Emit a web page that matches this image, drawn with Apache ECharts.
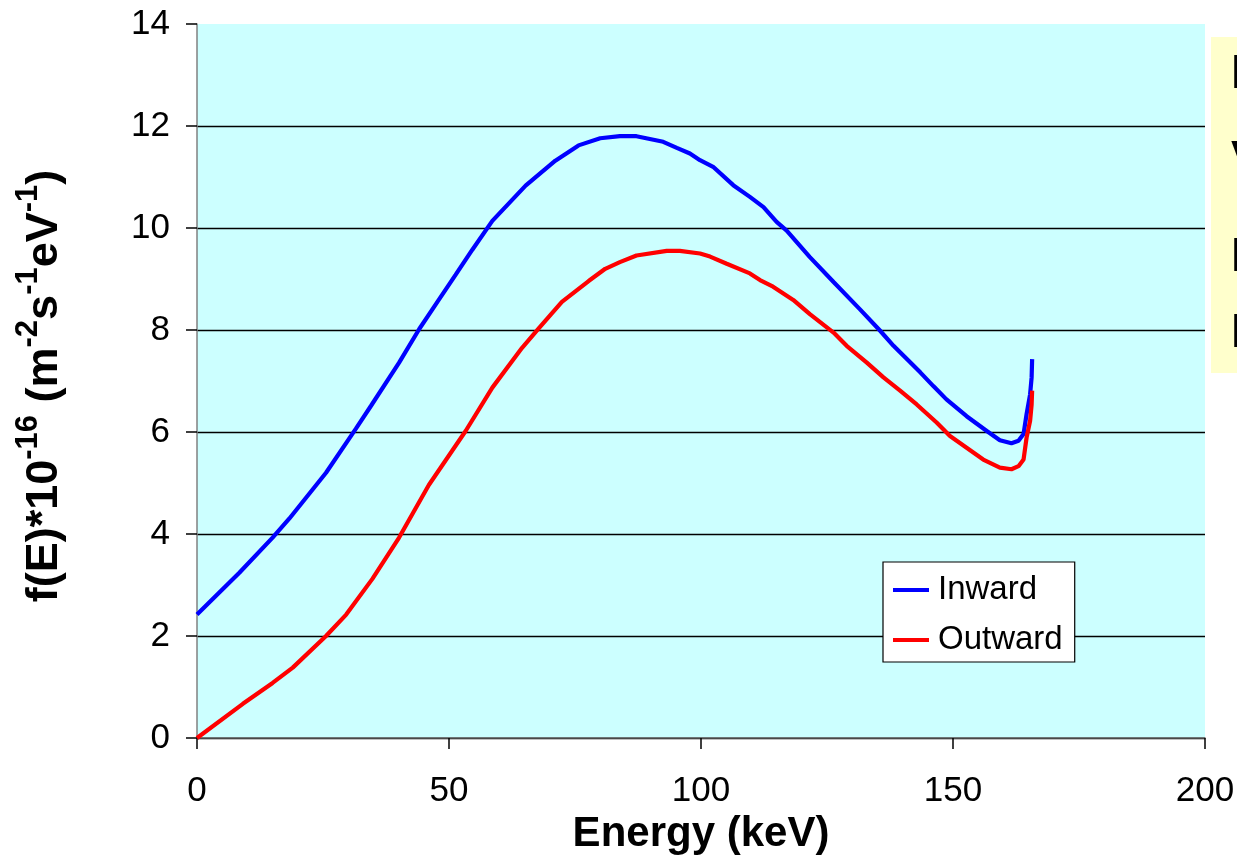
<!DOCTYPE html>
<html>
<head>
<meta charset="utf-8">
<script src="https://cdn.jsdelivr.net/npm/echarts@6/dist/echarts.min.js"></script>
<style>
html,body{margin:0;padding:0;background:#fff;}
#chart{width:1237px;height:855px;}
</style>
</head>
<body>
<div id="chart"></div>
<script>
// ---- data ----
const xTicks = [0, 50, 100, 150, 200];
const yTicks = [0, 2, 4, 6, 8, 10, 12, 14];
const seriesNames = ['Inward', 'Outward'];

const inwardE = [0, 8.4, 15.0, 18.3, 25.6, 31.5, 34.5, 40.1, 44.1, 47.7, 51.3, 54.6, 58.6, 65.2, 71.1, 75.7, 80.0, 83.9, 87.2, 92.5, 95.2, 97.8, 99.8, 102.4, 106.4, 109.7, 112.4, 115.0, 117.0, 121.6, 126.3, 131.5, 135.5, 138.2, 143.5, 146.1, 148.7, 152.7, 156.7, 159.3, 161.6, 163.0, 164.0, 164.6, 165.3, 165.6, 165.7];
const inwardF = [2.42, 3.24, 3.93, 4.30, 5.20, 6.06, 6.51, 7.36, 8.02, 8.55, 9.08, 9.57, 10.14, 10.83, 11.32, 11.62, 11.76, 11.80, 11.80, 11.69, 11.57, 11.46, 11.33, 11.20, 10.84, 10.61, 10.41, 10.12, 9.95, 9.43, 8.94, 8.41, 7.99, 7.69, 7.17, 6.90, 6.64, 6.31, 6.02, 5.84, 5.78, 5.83, 5.96, 6.35, 6.74, 7.07, 7.43];

const outwardE = [0, 9.1, 15.0, 19.0, 25.6, 29.6, 34.8, 40.1, 46.0, 53.3, 58.6, 64.5, 67.8, 72.4, 77.7, 81.0, 83.9, 87.2, 93.2, 95.8, 99.8, 101.8, 105.1, 109.7, 111.7, 114.3, 118.3, 121.6, 126.3, 128.9, 132.9, 136.2, 139.5, 142.8, 146.8, 149.4, 152.7, 156.0, 159.3, 161.6, 163.0, 164.0, 164.6, 165.3, 165.6, 165.7];
const outwardF = [0, 0.67, 1.08, 1.38, 2.00, 2.42, 3.12, 3.93, 4.96, 6.02, 6.87, 7.65, 8.03, 8.55, 8.96, 9.20, 9.33, 9.46, 9.55, 9.55, 9.50, 9.44, 9.30, 9.11, 8.98, 8.85, 8.59, 8.31, 7.95, 7.69, 7.36, 7.07, 6.81, 6.54, 6.18, 5.92, 5.69, 5.46, 5.30, 5.27, 5.33, 5.46, 5.89, 6.22, 6.54, 6.81];

const xTitle = 'Energy (keV)';
const sideLetters = ['I', 'V', 'I', 'I'];

// ---- build ----
const zip = (a, b) => a.map((v, i) => [v, b[i]]);
const FONT = '"Liberation Sans", Arial, sans-serif';

const chart = echarts.init(document.getElementById('chart'), null, {renderer: 'canvas'});

const gridColors = yTicks.map((t, i) => i === yTicks.length - 1 ? 'rgba(0,0,0,0)' : '#000000');

const sideTops = [60, 146, 243, 319];

const option = {
  animation: false,
  backgroundColor: '#ffffff',
  grid: {left: 197, right: 32, top: 24, bottom: 117, show: true, backgroundColor: '#CCFFFF', borderWidth: 0,
         containLabel: false, outerBoundsMode: 'none'},
  xAxis: {
    type: 'value', min: xTicks[0], max: xTicks[xTicks.length - 1], interval: 50,
    axisLine: {show: true, onZero: false, lineStyle: {color: '#606060', width: 1.5}},
    axisTick: {show: true, inside: false, length: 11, lineStyle: {color: '#000', width: 1.5}},
    axisLabel: {fontSize: 35, color: '#000', fontFamily: FONT, margin: 36, showMaxLabel: true, showMinLabel: true},
    splitLine: {show: false},
    name: xTitle, nameLocation: 'middle', nameGap: 74,
    nameTextStyle: {fontSize: 42, fontWeight: 'bold', color: '#000', fontFamily: FONT}
  },
  yAxis: {
    type: 'value', min: yTicks[0], max: yTicks[yTicks.length - 1], interval: 2,
    axisLine: {show: true, lineStyle: {color: '#808080', width: 1.5}},
    axisTick: {show: true, inside: false, length: 11, lineStyle: {color: '#000', width: 1.5}},
    axisLabel: {fontSize: 35, color: '#000', fontFamily: FONT, margin: 27},
    splitLine: {show: true, lineStyle: {color: gridColors, width: 1.3}}
  },
  legend: {
    show: true, orient: 'vertical', left: 883, top: 562,
    backgroundColor: '#ffffff', borderColor: '#000', borderWidth: 1.2,
    padding: [10, 12, 4, 10], itemGap: 14, itemWidth: 36, itemHeight: 4,
    icon: 'rect',
    textStyle: {fontSize: 33, color: '#000', fontFamily: FONT, lineHeight: 36, padding: [0, 0, 0, 4]},
    data: seriesNames
  },
  series: [
    {name: seriesNames[0], type: 'line', data: zip(inwardE, inwardF), showSymbol: false, symbol: 'none',
      lineStyle: {color: '#0000FF', width: 4.2}, itemStyle: {color: '#0000FF'}, z: 3},
    {name: seriesNames[1], type: 'line', data: zip(outwardE, outwardF), showSymbol: false, symbol: 'none',
      lineStyle: {color: '#FF0000', width: 4.2}, itemStyle: {color: '#FF0000'}, z: 4}
  ],
  graphic: [
    {type: 'rect', left: 1211, top: 37, shape: {width: 60, height: 336}, style: {fill: '#FFFFCC'}, z: 1},
    ...sideLetters.map((ch, i) => ({
      type: 'text', x: 1231, y: sideTops[i] - 9, z: 2,
      style: {text: ch, fontSize: 48, fontWeight: 'bold', fontFamily: FONT, fill: '#000', align: 'left', verticalAlign: 'top'}
    })),
    {
      type: 'text', x: 45, y: 386, rotation: Math.PI / 2, z: 5,
      style: {
        text: '{b|f(E)*10}{s|-16}{b| (m}{s|-2}{b|s}{s|-1}{b|eV}{s|-1}{b|)}',
        align: 'center', verticalAlign: 'middle', fill: '#000',
        rich: {
          b: {fontSize: 45, fontWeight: 'bold', fontFamily: FONT, lineHeight: 64, fill: '#000', verticalAlign: 'middle'},
          s: {fontSize: 31, fontWeight: 'bold', fontFamily: FONT, lineHeight: 16, fill: '#000', verticalAlign: 'top'}
        }
      }
    }
  ]
};
chart.setOption(option);
</script>
</body>
</html>
